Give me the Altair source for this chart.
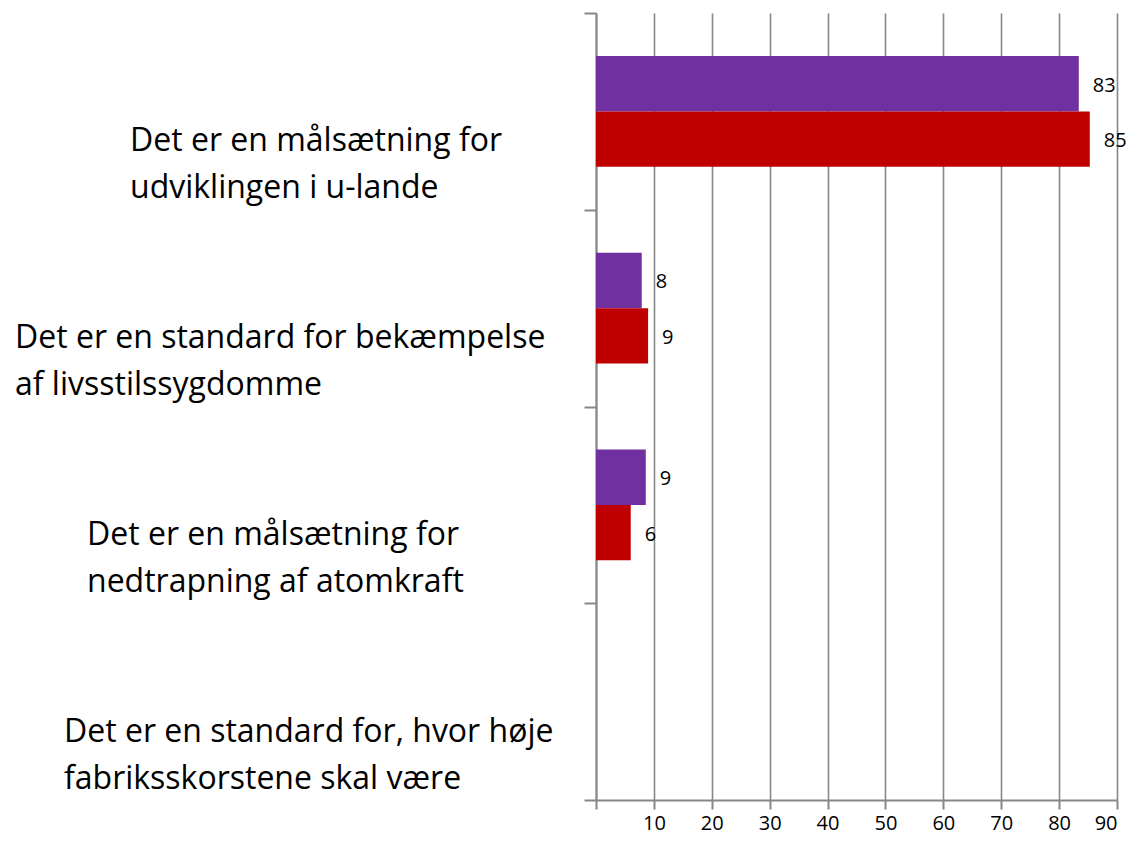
import altair as alt
import pandas as pd

# ---- data ----
categories = [
    "Det er en målsætning for udviklingen i u-lande",
    "Det er en standard for bekæmpelse af livsstilssygdomme",
    "Det er en målsætning for nedtrapning af atomkraft",
    "Det er en standard for, hvor høje fabriksskorstene skal være",
]
label_lines = [
    ["Det er en målsætning for", "udviklingen i u-lande"],
    ["Det er en standard for bekæmpelse", "af livsstilssygdomme"],
    ["Det er en målsætning for", "nedtrapning af atomkraft"],
    ["Det er en standard for, hvor høje", "fabriksskorstene skal være"],
]
series = ["Serie 1", "Serie 2"]
serie1_values = [83.4, 7.9, 8.6]
serie2_values = [85.3, 9.0, 6.0]
x_ticks = [0, 10, 20, 30, 40, 50, 60, 70, 80, 90]

# ---- layout / style (not data) ----
label_x_start = [130, 15, 87, 64]   # page px where each label block starts
plot_left = 596
colors = ["#7030A0", "#C00000"]
grey = "#878787"
FONT = "Open Sans"

rows = []
for i, v in enumerate(serie1_values):
    rows.append({"category": categories[i], "series": series[0], "value": v})
for i, v in enumerate(serie2_values):
    rows.append({"category": categories[i], "series": series[1], "value": v})
bars_df = pd.DataFrame(rows)

labels_df = pd.DataFrame({
    "category": categories,
    "text": ["\n".join(l) for l in label_lines],
    "lx": [s - plot_left for s in label_x_start],
})

y_axis = alt.Axis(labels=False, title=None, tickBand="extent", tickSize=12,
                  tickColor=grey, tickWidth=2, domainColor=grey, domainWidth=2,
                  grid=False)
y_enc = alt.Y("category:N", sort=categories,
              scale=alt.Scale(domain=categories, paddingInner=0, paddingOuter=0),
              axis=y_axis)
yoff_enc = alt.YOffset("series:N", sort=series,
                       scale=alt.Scale(domain=series, paddingInner=0, paddingOuter=0.775))

x_enc = alt.X("value:Q",
              scale=alt.Scale(domain=[0, 90], nice=False, zero=True),
              axis=alt.Axis(values=x_ticks, title=None, grid=True, gridColor=grey,
                            gridWidth=1.6, tickSize=9, tickColor=grey, tickWidth=2,
                            domainColor=grey, domainWidth=2, labelPadding=4,
                            labelFont=FONT, labelFontSize=20, labelColor="black",
                            labelExpr="datum.value == 0 ? '' : datum.label"))

bars = alt.Chart(bars_df).mark_bar().encode(
    y=y_enc,
    yOffset=yoff_enc,
    x=x_enc,
    color=alt.Color("series:N", scale=alt.Scale(domain=series, range=colors), legend=None),
)

values_text = alt.Chart(bars_df).mark_text(
    align="left", baseline="middle", dx=14, dy=2, font=FONT, fontSize=20, color="black"
).encode(
    y=y_enc,
    yOffset=yoff_enc,
    x=alt.X("value:Q"),
    text=alt.Text("value:Q", format=".0f"),
)

cat_text = alt.Chart(labels_df).mark_text(
    align="left", baseline="middle", dy=30, lineBreak="\n", lineHeight=47,
    font=FONT, fontSize=32, color="black"
).encode(
    y=y_enc,
    x=alt.X("lx:Q", scale=None),
    text="text:N",
)

chart = alt.layer(bars, values_text, cat_text).properties(
    width=521, height=787,
    autosize=alt.AutoSizeParams(type="none"),
    padding={"left": 588, "top": 5, "right": 10, "bottom": 40},
).configure_view(stroke=None)

chart.save("out.html", embed_options={"renderer": "svg", "actions": False})
